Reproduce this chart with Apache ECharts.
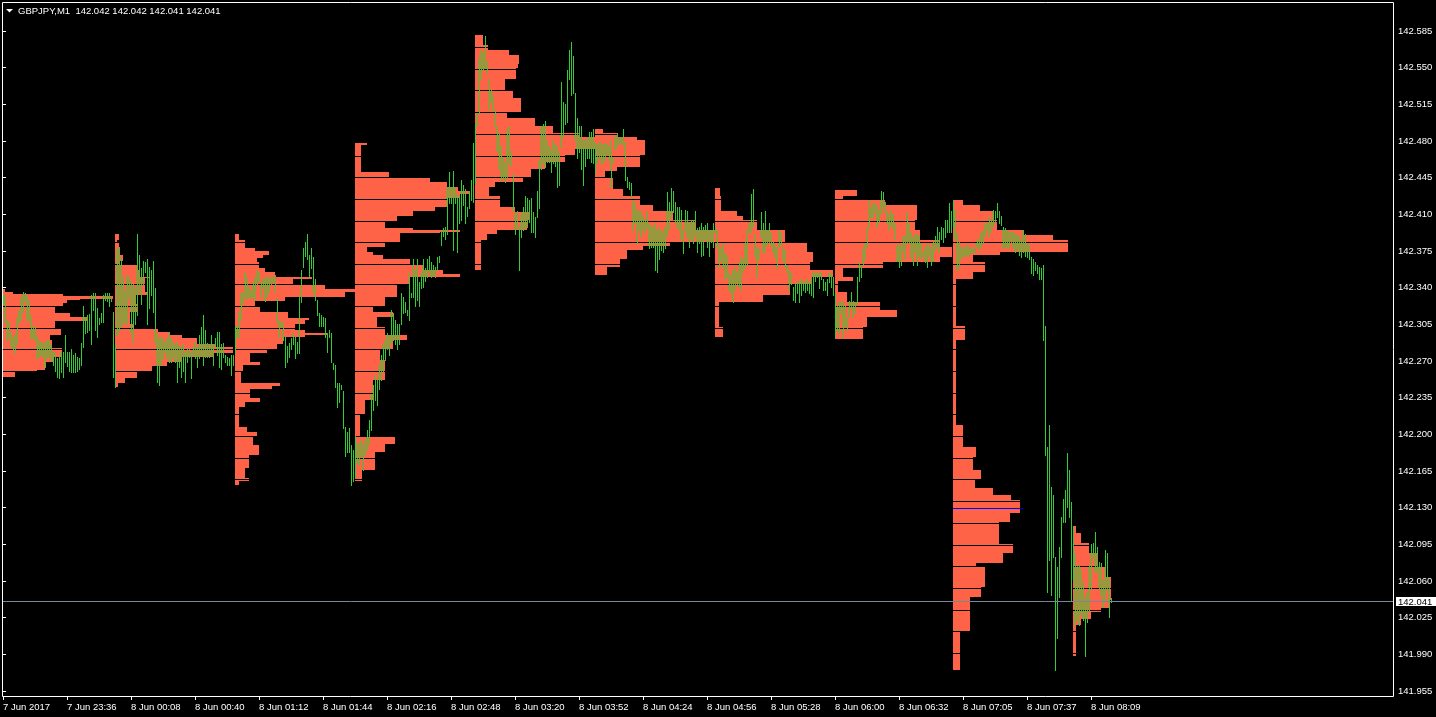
<!DOCTYPE html>
<html><head><meta charset="utf-8">
<script src="https://cdn.jsdelivr.net/npm/echarts@6/dist/echarts.min.js"></script>
<style>html,body{margin:0;padding:0;background:#000;}#c{width:1436px;height:717px;}</style>
</head><body><div id="c"></div>
<script>
// ---------- DATA ----------
const titleText = 'GBPJPY,M1  142.042 142.042 142.041 142.041';
const xTickIndex = [0,32,64,96,128,160,192,224,256,288,320,352,384,416,448,480,512,544];
const xTickLabels = ['7 Jun 2017','7 Jun 23:36','8 Jun 00:08','8 Jun 00:40','8 Jun 01:12','8 Jun 01:44','8 Jun 02:16','8 Jun 02:48','8 Jun 03:20','8 Jun 03:52','8 Jun 04:24','8 Jun 04:56','8 Jun 05:28','8 Jun 06:00','8 Jun 06:32','8 Jun 07:05','8 Jun 07:37','8 Jun 08:09'];
const yTicks = [141.955,141.990,142.025,142.060,142.095,142.130,142.165,142.200,142.235,142.270,142.305,142.340,142.375,142.410,142.445,142.480,142.515,142.550,142.585];
const bidPrice = 142.041;

// minute bars (index = bar number from the left edge)
const highs = [
142.333,142.333,142.309,142.307,142.298,142.293,142.295,142.312,142.319,142.331,
142.336,142.335,142.333,142.328,142.314,142.303,142.302,142.295,142.290,142.288,
142.287,142.288,142.290,142.290,142.286,142.279,142.279,142.273,142.274,142.279,
142.279,142.295,142.279,142.279,142.281,142.276,142.278,142.274,142.273,142.287,
142.322,142.312,142.314,142.315,142.333,142.335,142.335,142.321,142.311,142.316,
142.333,142.335,142.335,142.335,142.331,142.317,142.286,142.378,142.379,142.369,
142.350,142.338,142.352,142.350,142.346,142.343,142.340,142.391,142.371,142.359,
142.365,142.364,142.367,142.360,142.357,142.365,142.340,142.297,142.292,142.293,
142.292,142.288,142.292,142.298,142.292,142.288,142.286,142.288,142.284,142.283,
142.286,142.279,142.281,142.281,142.279,142.283,142.288,142.283,142.295,142.302,
142.314,142.300,142.287,142.286,142.295,142.286,142.292,142.298,142.298,142.286,
142.287,142.276,142.274,142.273,142.276,142.276,142.303,142.303,142.317,142.335,
142.336,142.355,142.350,142.341,142.338,142.345,142.350,142.357,142.355,142.345,
142.348,142.350,142.350,142.350,142.350,142.350,142.352,142.330,142.309,142.307,
142.307,142.293,142.284,142.287,142.292,142.297,142.293,142.288,142.331,142.357,
142.378,142.384,142.391,142.371,142.378,142.369,142.348,142.328,142.316,142.314,
142.312,142.311,142.297,142.300,142.297,142.268,142.266,142.249,142.249,142.247,
142.241,142.207,142.202,142.206,142.190,142.185,142.198,142.192,142.192,142.195,
142.190,142.195,142.204,142.214,142.238,142.247,142.257,142.252,142.266,142.276,
142.286,142.290,142.297,142.295,142.319,142.316,142.309,142.305,142.305,142.335,
142.331,142.326,142.319,142.354,142.335,142.367,142.357,142.367,142.345,142.354,
142.367,142.359,142.367,142.370,142.364,142.362,142.360,142.369,142.370,142.393,
142.397,142.398,142.436,142.450,142.436,142.451,142.436,142.429,142.427,142.443,
142.438,142.434,142.417,142.432,142.443,142.478,142.496,142.507,142.560,142.567,
142.565,142.580,142.556,142.539,142.529,142.524,142.510,142.494,142.488,142.475,
142.465,142.460,142.491,142.494,142.470,142.448,142.412,142.413,142.398,142.410,
142.417,142.427,142.426,142.424,142.426,142.412,142.407,142.432,142.462,142.494,
142.496,142.499,142.481,142.475,142.472,142.481,142.477,142.475,142.469,142.536,
142.517,142.515,142.548,142.567,142.574,142.561,142.526,142.502,142.494,142.494,
142.481,142.481,142.483,142.489,142.489,142.491,142.479,142.477,142.479,142.478,
142.477,142.478,142.477,142.475,142.481,142.465,142.484,142.488,142.484,142.484,
142.491,142.479,142.446,142.441,142.440,142.424,142.422,142.414,142.414,142.413,
142.408,142.405,142.413,142.402,142.400,142.398,142.402,142.395,142.398,142.395,
142.393,142.398,142.431,142.422,142.435,142.432,142.422,142.417,142.417,142.414,
142.395,142.414,142.413,142.403,142.405,142.405,142.413,142.397,142.398,142.402,
142.398,142.400,142.402,142.395,142.395,142.402,142.398,142.395,142.381,142.378,
142.383,142.373,142.371,142.354,142.352,142.357,142.360,142.355,142.364,142.369,
142.367,142.384,142.395,142.402,142.429,142.434,142.391,142.379,142.378,142.412,
142.402,142.413,142.395,142.402,142.393,142.384,142.381,142.379,142.395,142.393,
142.379,142.376,142.362,142.357,142.355,142.341,142.343,142.345,142.346,142.348,
142.346,142.345,142.348,142.345,142.348,142.355,142.354,142.355,142.354,142.355,
142.348,142.345,142.348,142.354,142.354,142.350,142.335,142.322,142.326,142.326,
142.327,142.322,142.312,142.327,142.336,142.327,142.326,142.350,142.364,142.362,
142.378,142.383,142.398,142.424,142.417,142.421,142.421,142.419,142.414,142.432,
142.431,142.422,142.413,142.410,142.414,142.410,142.402,142.381,142.381,142.381,
142.389,142.389,142.412,142.402,142.393,142.388,142.391,142.391,142.389,142.383,
142.374,142.379,142.381,142.381,142.379,142.384,142.389,142.398,142.393,142.398,
142.397,142.405,142.405,142.421,142.413,142.424,142.414,142.392,142.384,142.379,
142.379,142.379,142.381,142.379,142.378,142.379,142.378,142.386,142.386,142.393,
142.395,142.402,142.402,142.407,142.405,142.414,142.413,142.421,142.413,142.408,
142.398,142.397,142.395,142.393,142.393,142.393,142.391,142.391,142.389,142.386,
142.395,142.391,142.383,142.381,142.369,142.367,142.364,142.362,142.360,142.359,
142.362,142.303,142.188,142.209,142.150,142.142,142.083,142.073,142.092,142.121,
142.138,142.147,142.182,142.166,142.135,142.112,142.087,142.074,142.075,142.071,
142.059,142.045,142.049,142.074,142.095,142.096,142.107,142.092,142.078,142.077,
142.061,142.090,142.087,142.064,142.044
];
const lows = [
142.324,142.307,142.290,142.292,142.284,142.281,142.278,142.286,142.306,142.309,
142.317,142.327,142.309,142.309,142.292,142.292,142.290,142.273,142.274,142.276,
142.274,142.264,142.273,142.274,142.271,142.266,142.260,142.255,142.254,142.259,
142.255,142.269,142.265,142.260,142.259,142.259,142.259,142.260,142.262,142.266,
142.283,142.297,142.298,142.300,142.286,142.319,142.300,142.293,142.305,142.307,
142.307,142.328,142.327,142.322,142.327,142.255,142.245,142.295,142.298,142.302,
142.305,142.307,142.305,142.330,142.297,142.288,142.305,142.314,142.336,142.324,
142.343,142.355,142.305,142.321,142.333,142.317,142.288,142.250,142.247,142.266,
142.273,142.279,142.273,142.269,142.269,142.273,142.269,142.250,142.264,142.255,
142.260,142.250,142.269,142.274,142.254,142.276,142.273,142.264,142.273,142.276,
142.266,142.274,142.274,142.274,142.276,142.266,142.284,142.276,142.264,142.262,
142.274,142.269,142.266,142.266,142.257,142.266,142.278,142.293,142.293,142.309,
142.324,142.330,142.330,142.331,142.330,142.331,142.328,142.343,142.346,142.331,
142.340,142.327,142.331,142.336,142.343,142.345,142.336,142.307,142.293,142.302,
142.290,142.264,142.269,142.274,142.281,142.286,142.273,142.278,142.278,142.326,
142.360,142.370,142.367,142.350,142.359,142.336,142.328,142.314,142.303,142.303,
142.303,142.293,142.279,142.293,142.269,142.262,142.245,142.226,142.231,142.243,
142.206,142.179,142.183,142.183,142.152,142.155,142.159,142.173,142.171,142.178,
142.166,142.180,142.185,142.190,142.204,142.223,142.233,142.228,142.243,142.252,
142.260,142.271,142.281,142.276,142.286,142.290,142.286,142.281,142.286,142.305,
142.316,142.317,142.314,142.309,142.331,142.331,142.322,142.328,142.322,142.340,
142.341,142.346,142.350,142.355,142.350,142.352,142.350,142.357,142.364,142.381,
142.389,142.386,142.391,142.421,142.421,142.376,142.421,142.374,142.402,142.405,
142.419,142.402,142.408,142.416,142.424,142.422,142.440,142.494,142.507,142.539,
142.548,142.550,142.545,142.510,142.517,142.510,142.494,142.470,142.453,142.443,
142.445,142.441,142.446,142.459,142.456,142.413,142.391,142.397,142.357,142.388,
142.395,142.397,142.398,142.403,142.393,142.393,142.388,142.407,142.416,142.453,
142.459,142.455,142.460,142.460,142.450,142.459,142.456,142.436,142.438,142.474,
142.484,142.496,142.498,142.539,142.524,142.526,142.481,142.464,142.469,142.453,
142.438,142.456,142.464,142.464,142.460,142.459,142.450,142.459,142.464,142.459,
142.459,142.462,142.467,142.462,142.436,142.459,142.472,142.474,142.477,142.478,
142.477,142.443,142.436,142.434,142.427,142.395,142.402,142.383,142.395,142.388,
142.395,142.393,142.397,142.378,142.379,142.379,142.357,142.355,142.367,142.376,
142.374,142.378,142.389,142.395,142.407,142.412,142.403,142.398,142.395,142.386,
142.373,142.395,142.388,142.379,142.386,142.383,142.389,142.374,142.383,142.370,
142.371,142.386,142.379,142.370,142.384,142.379,142.393,142.379,142.360,142.365,
142.360,142.348,142.350,142.338,142.335,142.326,142.338,142.343,142.341,142.338,
142.355,142.359,142.362,142.393,142.393,142.398,142.370,142.350,142.367,142.388,
142.374,142.374,142.381,142.384,142.381,142.374,142.369,142.359,142.379,142.381,
142.365,142.360,142.355,142.338,142.343,142.328,142.326,142.335,142.326,142.333,
142.338,142.336,142.338,142.335,142.333,142.331,142.346,142.350,142.340,142.348,
142.338,142.338,142.333,142.345,142.341,142.333,142.293,142.300,142.297,142.316,
142.293,142.303,142.300,142.312,142.321,142.312,142.316,142.324,142.346,142.350,
142.362,142.367,142.379,142.398,142.407,142.407,142.412,142.398,142.403,142.410,
142.416,142.412,142.402,142.395,142.400,142.397,142.386,142.365,142.360,142.362,
142.374,142.367,142.383,142.384,142.369,142.362,142.374,142.362,142.370,142.367,
142.370,142.364,142.360,142.370,142.362,142.365,142.376,142.379,142.374,142.386,
142.384,142.388,142.393,142.393,142.393,142.398,142.386,142.357,142.359,142.367,
142.370,142.370,142.371,142.370,142.373,142.374,142.374,142.379,142.376,142.379,
142.383,142.389,142.395,142.389,142.393,142.398,142.403,142.407,142.402,142.400,
142.378,142.379,142.379,142.378,142.384,142.379,142.374,142.376,142.371,142.369,
142.374,142.370,142.369,142.367,142.354,142.352,142.357,142.354,142.348,142.348,
142.290,142.180,142.049,142.080,142.047,142.083,141.975,142.006,142.045,142.083,
142.116,142.116,142.131,142.121,142.042,142.061,142.018,142.023,142.018,142.028,
142.023,141.988,142.021,142.031,142.052,142.083,142.069,142.069,142.053,142.047,
142.035,142.042,142.052,142.026,142.040
];

// hourly market profiles: first bar of each hour
const profileStarts = [-4, 56, 116, 176, 236, 296, 356, 416, 475, 535];
// each profile: [price high, price low, volume]
const profile0 = [[142.339,142.336,10],[142.336,142.334,18],[142.334,142.332,68],[142.332,142.329,118],[142.329,142.328,85],[142.328,142.325,72],[142.325,142.322,68],[142.322,142.316,60],[142.316,142.312,75],[142.312,142.308,92],[142.308,142.301,60],[142.301,142.295,66],[142.295,142.290,55],[142.290,142.282,57],[142.282,142.274,67],[142.274,142.269,58],[142.269,142.261,50],[142.261,142.259,42],[142.259,142.255,20]];
const profile1 = [[142.391,142.385,4],[142.385,142.383,2],[142.383,142.371,4],[142.371,142.365,8],[142.365,142.363,4],[142.363,142.357,22],[142.357,142.350,25],[142.350,142.349,35],[142.349,142.336,30],[142.336,142.333,32],[142.333,142.324,20],[142.324,142.317,22],[142.317,142.305,15],[142.305,142.301,18],[142.301,142.298,43],[142.298,142.295,55],[142.295,142.292,67],[142.292,142.286,82],[142.286,142.283,100],[142.283,142.278,118],[142.278,142.274,98],[142.274,142.269,67],[142.269,142.265,52],[142.265,142.260,37],[142.260,142.254,22],[142.254,142.249,10],[142.249,142.245,3]];
const profile2 = [[142.391,142.385,4],[142.385,142.378,10],[142.378,142.375,20],[142.375,142.371,34],[142.371,142.368,28],[142.368,142.364,22],[142.364,142.359,24],[142.359,142.355,30],[142.355,142.350,40],[142.350,142.348,77],[142.348,142.343,58],[142.343,142.339,90],[142.339,142.336,120],[142.336,142.331,110],[142.331,142.327,50],[142.327,142.322,20],[142.322,142.317,25],[142.317,142.311,53],[142.311,142.309,74],[142.309,142.305,70],[142.305,142.300,60],[142.300,142.297,70],[142.297,142.295,92],[142.295,142.293,70],[142.293,142.286,48],[142.286,142.281,42],[142.281,142.278,32],[142.278,142.269,15],[142.269,142.266,25],[142.266,142.260,8],[142.260,142.249,6],[142.249,142.246,45],[142.246,142.243,37],[142.243,142.235,15],[142.235,142.231,25],[142.231,142.226,10],[142.226,142.207,4],[142.207,142.202,12],[142.202,142.198,22],[142.198,142.190,18],[142.190,142.180,24],[142.180,142.168,14],[142.168,142.158,10],[142.158,142.155,14],[142.155,142.152,4]];
const profile3 = [[142.478,142.476,12],[142.476,142.450,6],[142.450,142.446,34],[142.446,142.441,75],[142.441,142.436,92],[142.436,142.432,103],[142.432,142.429,115],[142.429,142.426,105],[142.426,142.417,92],[142.417,142.413,80],[142.413,142.408,58],[142.408,142.403,42],[142.403,142.397,30],[142.397,142.395,58],[142.395,142.393,105],[142.393,142.392,85],[142.392,142.384,45],[142.384,142.379,30],[142.379,142.374,12],[142.374,142.371,18],[142.371,142.367,28],[142.367,142.363,55],[142.363,142.357,68],[142.357,142.353,88],[142.353,142.350,105],[142.350,142.343,55],[142.343,142.331,42],[142.331,142.322,30],[142.322,142.317,18],[142.317,142.312,38],[142.312,142.302,22],[142.302,142.295,30],[142.295,142.290,52],[142.290,142.281,38],[142.281,142.271,25],[142.271,142.252,30],[142.252,142.233,18],[142.233,142.219,10],[142.219,142.197,5],[142.197,142.191,40],[142.191,142.183,30],[142.183,142.166,20],[142.166,142.155,7]];
const profile4 = [[142.581,142.572,8],[142.572,142.567,13],[142.567,142.562,34],[142.562,142.553,44],[142.553,142.550,43],[142.550,142.539,41],[142.539,142.529,30],[142.529,142.521,38],[142.521,142.508,46],[142.508,142.502,32],[142.502,142.494,60],[142.494,142.488,78],[142.488,142.484,105],[142.484,142.472,120],[142.472,142.467,100],[142.467,142.460,90],[142.460,142.453,70],[142.453,142.446,56],[142.446,142.441,48],[142.441,142.436,20],[142.436,142.427,14],[142.427,142.417,25],[142.417,142.412,40],[142.412,142.405,55],[142.405,142.395,52],[142.395,142.391,22],[142.391,142.385,12],[142.385,142.357,6]];
const profile5 = [[142.491,142.488,8],[142.488,142.484,22],[142.484,142.481,42],[142.481,142.467,50],[142.467,142.455,45],[142.455,142.451,22],[142.451,142.446,10],[142.446,142.434,18],[142.434,142.427,28],[142.427,142.419,45],[142.419,142.413,58],[142.413,142.405,78],[142.405,142.395,100],[142.395,142.384,120],[142.384,142.380,75],[142.380,142.376,48],[142.376,142.367,32],[142.367,142.360,25],[142.360,142.352,12]];
const profile6 = [[142.435,142.427,5],[142.427,142.413,6],[142.413,142.408,22],[142.408,142.405,28],[142.405,142.395,42],[142.395,142.384,70],[142.384,142.374,92],[142.374,142.364,98],[142.364,142.357,95],[142.357,142.350,118],[142.350,142.343,97],[142.343,142.333,75],[142.333,142.326,48],[142.326,142.302,4],[142.302,142.293,8]];
const profile7 = [[142.433,142.427,22],[142.427,142.425,8],[142.425,142.419,50],[142.419,142.405,82],[142.405,142.395,80],[142.395,142.385,85],[142.385,142.379,105],[142.379,142.369,117],[142.369,142.364,105],[142.364,142.359,48],[142.359,142.350,8],[142.350,142.346,18],[142.346,142.336,3],[142.336,142.326,12],[142.326,142.319,45],[142.319,142.312,62],[142.312,142.302,32],[142.302,142.291,28]];
const profile8 = [[142.424,142.419,10],[142.419,142.413,27],[142.413,142.405,40],[142.405,142.395,44],[142.395,142.390,70],[142.390,142.385,100],[142.385,142.374,115],[142.374,142.371,47],[142.371,142.364,20],[142.364,142.355,32],[142.355,142.348,20],[142.348,142.303,3],[142.303,142.290,12],[142.290,142.209,3],[142.209,142.188,10],[142.188,142.178,23],[142.178,142.166,20],[142.166,142.157,28],[142.157,142.149,22],[142.149,142.142,40],[142.142,142.137,58],[142.137,142.125,67],[142.125,142.116,57],[142.116,142.095,46],[142.095,142.087,60],[142.087,142.077,50],[142.077,142.073,23],[142.073,142.054,32],[142.054,142.045,28],[142.045,142.012,17],[142.012,141.975,7]];
const profile9 = [[142.112,142.106,3],[142.106,142.096,8],[142.096,142.087,16],[142.087,142.073,25],[142.073,142.064,32],[142.064,142.042,38],[142.042,142.034,36],[142.034,142.030,28],[142.030,142.024,18],[142.024,142.018,8],[142.018,141.988,3]];
// price levels shown as dark separators inside the profiles
const gridLevels = [142.570,142.549,142.529,142.508,142.487,142.466,142.446,142.425,142.404,142.384,142.363,142.343,142.322,142.301,142.281,142.260,142.239,142.219,142.198,142.177,142.157,142.136,142.115,142.094,142.074,142.053,142.032,142.012,141.991,141.970];
// point of control line of the 07:00 profile: [profile number, price, volume]
const pocLines = [[8, 142.130, 70]];

// ---------- CHART ----------
const FONT = '"Liberation Sans", Arial, sans-serif';
const FS = 9.5;
const VOL_TO_BARS = 0.5;   // one volume unit = half a bar slot
const BARS_PER_PROFILE = 60;
const profiles = [profile0,profile1,profile2,profile3,profile4,profile5,profile6,profile7,profile8,profile9];

const profileData = [];
profiles.forEach((segs,k)=>segs.forEach(s=>profileData.push([profileStarts[k], s[0], s[1], s[2]])));
const levelData = [];
profiles.forEach((segs,k)=>{
  const hi = Math.max(...segs.map(s=>s[0])), lo = Math.min(...segs.map(s=>s[1]));
  gridLevels.forEach(g=>{ if (g < hi && g > lo) levelData.push([profileStarts[k], g]); });
});
const pocData = pocLines.map(p=>[profileStarts[p[0]], p[1], p[2]]);
const barData = highs.map((h,i)=>[i, h, lows[i]]);

function renderProfile(params, api){
  const cs = params.coordSys;
  const a = api.coord([api.value(0), api.value(1)]);
  const b = api.coord([api.value(0) + api.value(3)*VOL_TO_BARS, api.value(2)]);
  const x1 = Math.max(Math.round(a[0]), cs.x), x2 = Math.round(b[0]);
  const y1 = Math.round(a[1]), y2 = Math.round(b[1]);
  if (x2 <= x1) return null;
  return {type:'rect', shape:{x:x1, y:y1, width:x2-x1, height:Math.max(1,y2-y1)}, style:{fill:'#ff6347'}};
}
function renderLevel(params, api){
  const cs = params.coordSys;
  const a = api.coord([api.value(0), api.value(1)]);
  const b = api.coord([api.value(0) + BARS_PER_PROFILE, api.value(1)]);
  const y = Math.round(a[1]) + 0.5;
  return {type:'line', shape:{x1:Math.max(Math.round(a[0]), cs.x), y1:y, x2:Math.round(b[0]), y2:y}, style:{stroke:'#000', lineWidth:1}};
}
function renderPoc(params, api){
  const a = api.coord([api.value(0), api.value(1)]);
  const b = api.coord([api.value(0) + api.value(2)*VOL_TO_BARS, api.value(1)]);
  const y = Math.round(a[1]) + 0.5;
  return {type:'line', shape:{x1:Math.round(a[0]), y1:y, x2:Math.round(b[0]), y2:y}, style:{stroke:'#0000ff', lineWidth:1}};
}
function renderBar(params, api){
  const a = api.coord([api.value(0), api.value(1)]);
  const b = api.coord([api.value(0), api.value(2)]);
  const x = Math.round(a[0]) + 0.5;
  const y1 = Math.round(a[1]), y2 = Math.round(b[1]) + 1;
  return {type:'line', shape:{x1:x, y1:y1, x2:x, y2:Math.max(y2, y1+1)}, style:{stroke:'#32cd32', lineWidth:1}};
}
function renderBid(params, api){
  const cs = params.coordSys;
  const p = api.coord([0, api.value(0)]);
  const y = Math.round(p[1]);
  const right = cs.x + cs.width;
  return {type:'group', children:[
    {type:'line', shape:{x1:cs.x, y1:y+0.5, x2:right, y2:y+0.5}, style:{stroke:'#778899', lineWidth:1}},
    {type:'rect', shape:{x:right+3, y:y-4, width:1436-right-3, height:9}, style:{fill:'#fff'}},
    {type:'text', x:right+5, y:y+1, style:{text:api.value(0).toFixed(3), fill:'#000', font:FS+'px '+FONT, verticalAlign:'middle', align:'left'}}
  ]};
}

const chart = echarts.init(document.getElementById('c'), null, {renderer:'canvas'});
chart.setOption({
  animation:false,
  backgroundColor:'#000',
  grid:{left:3, right:43, top:3, bottom:21, show:false},
  xAxis:{
    type:'value', min:0, max:695,
    axisLine:{show:false},
    splitLine:{show:false},
    axisTick:{show:true, customValues:xTickIndex, length:4, inside:false, lineStyle:{color:'#fff'}},
    axisLabel:{show:true, customValues:xTickIndex, color:'#fff', fontFamily:FONT, fontSize:FS, align:'left', margin:6,
      formatter:(v)=>{ const k = xTickIndex.indexOf(Math.round(v)); return k>=0 ? xTickLabels[k] : ''; }}
  },
  yAxis:{
    type:'value', position:'right', min:141.9502, max:142.6117, scale:true,
    axisLine:{show:false},
    splitLine:{show:false},
    axisTick:{show:true, customValues:yTicks, length:3, inside:false, lineStyle:{color:'#fff'}},
    axisLabel:{show:true, customValues:yTicks, color:'#fff', fontFamily:FONT, fontSize:FS, margin:5,
      formatter:(v)=>v.toFixed(3)}
  },
  graphic:[
    {type:'rect', silent:true, z:50, shape:{x:2.5, y:2.5, width:1391, height:694}, style:{fill:null, stroke:'#fff', lineWidth:1}},
    {type:'polygon', silent:true, z:60, shape:{points:[[6,9],[13,9],[9.5,12.5]]}, style:{fill:'#fff'}},
    {type:'text', silent:true, z:60, x:18, y:6, style:{text:titleText, fill:'#fff', font:FS+'px '+FONT}}
  ],
  series:[
    {type:'custom', name:'profiles', z:1, silent:true, renderItem:renderProfile, data:profileData, encode:{x:0, y:[1,2]}},
    {type:'custom', name:'levels', z:2, silent:true, renderItem:renderLevel, data:levelData, encode:{x:0, y:1}},
    {type:'custom', name:'poc', z:2, silent:true, renderItem:renderPoc, data:pocData, encode:{x:0, y:1}},
    {type:'custom', name:'bars', z:3, silent:true, renderItem:renderBar, data:barData, encode:{x:0, y:[1,2]}},
    {type:'custom', name:'bid', z:4, silent:true, clip:false, renderItem:renderBid, data:[[bidPrice]], encode:{y:0}}
  ]
});
</script></body></html>
